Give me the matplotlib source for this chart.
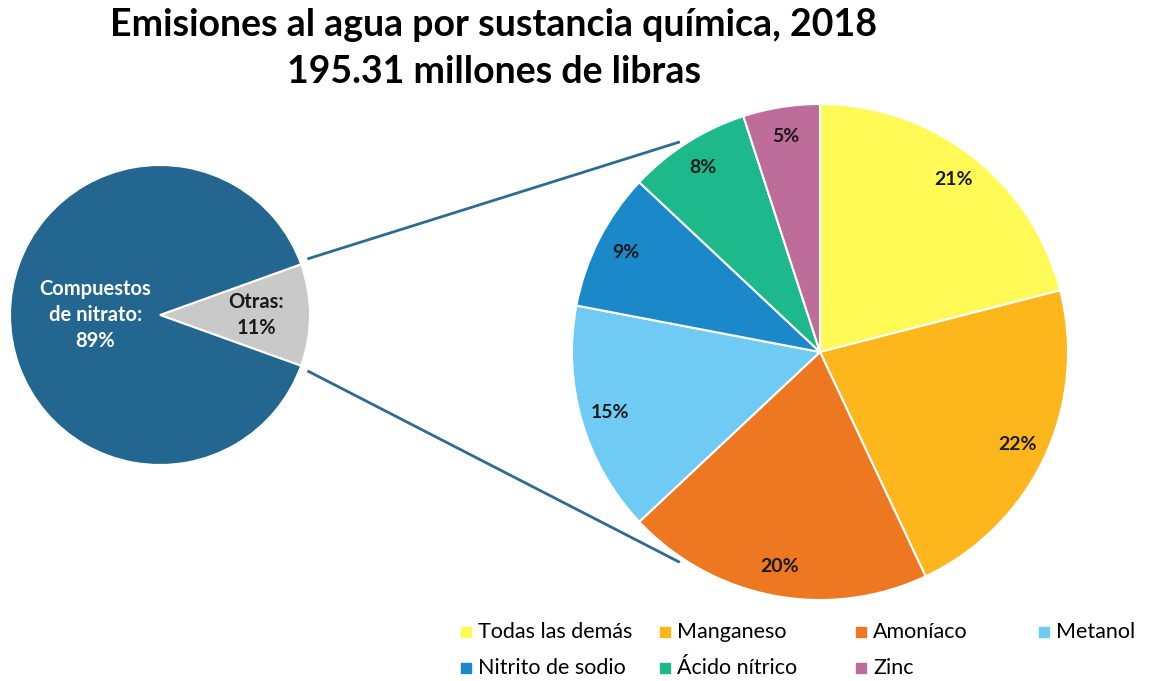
import numpy as np
import matplotlib.pyplot as plt

# left pie
left_labels = ['Otras', 'Compuestos de nitrato']
left_values = [11, 89]
left_colors = ['#C9C9C9', '#236690']

# right pie (breakdown of "Otras")
right_labels = ['Todas las demás', 'Manganeso', 'Amoníaco', 'Metanol',
                'Nitrito de sodio', 'Ácido nítrico', 'Zinc']
right_values = [21, 22, 20, 15, 9, 8, 5]
right_colors = ['#FFFA55', '#FDB71C', '#EE7722', '#6FCBF4',
                '#1B88C9', '#1DB98B', '#BE6C9A']

W, H = 1154, 681
plt.rcParams['font.family'] = ['Lato', 'DejaVu Sans']

fig = plt.figure(figsize=(W / 100, H / 100), dpi=100)
ax = fig.add_axes([0, 0, 1, 1])
ax.set_xlim(0, W)
ax.set_ylim(0, H)
ax.set_aspect('equal')
ax.axis('off')

# pixel-space geometry (y measured from bottom)
lc, lr = (160, H - 315), 150
rc, rr = (820, H - 352), 248

half = left_values[0] / 100 * 360 / 2
lw, _ = ax.pie(left_values, colors=left_colors, center=lc, radius=lr,
               startangle=-half, counterclock=True,
               wedgeprops=dict(edgecolor='white', linewidth=1.5))
ax.set_xlim(0, W)
ax.set_ylim(0, H)

left_txt = ['Otras:\n11%', 'Compuestos\nde nitrato:\n89%']
left_frac = [0.64, 0.43]
left_tc = ['#1a1a1a', 'white']
for w, t, f, c in zip(lw, left_txt, left_frac, left_tc):
    a = np.deg2rad((w.theta1 + w.theta2) / 2)
    ax.text(lc[0] + lr * f * np.cos(a), lc[1] + lr * f * np.sin(a), t,
            ha='center', va='center', fontsize=14.5, fontweight='bold',
            color=c, linespacing=1.4)

rw, _, autot = ax.pie(right_values, colors=right_colors, center=rc, radius=rr,
                      startangle=90, counterclock=False,
                      autopct='%1.0f%%', pctdistance=0.88,
                      wedgeprops=dict(edgecolor='white', linewidth=1.5),
                      textprops=dict(fontsize=14, fontweight='bold', color='#1a1a1a'))
ax.set_xlim(0, W)
ax.set_ylim(0, H)

# connector lines from the "Otras" slice to the breakdown pie
for sgn in (1, -1):
    a0 = np.deg2rad(sgn * (half + 1))
    a1 = np.deg2rad(sgn * 124)
    x0, y0 = lc[0] + lr * 1.06 * np.cos(a0), lc[1] + lr * 1.06 * np.sin(a0)
    x1, y1 = rc[0] + rr * 1.02 * np.cos(a1), rc[1] + rr * 1.02 * np.sin(a1)
    ax.plot([x0, x1], [y0, y1], color='#2F6B8F', lw=2)

# title
ax.text(494, H - 25, 'Emisiones al agua por sustancia química, 2018',
        ha='center', va='center', fontsize=27, fontweight='bold')
ax.text(494, H - 72, '195.31 millones de libras',
        ha='center', va='center', fontsize=27, fontweight='bold')

# legend
col_x = [466, 665, 861, 1044]
row_y = [H - 632, H - 668]
for i, (lab, col) in enumerate(zip(right_labels, right_colors)):
    x, y = col_x[i % 4], row_y[i // 4]
    ax.scatter([x], [y], marker='s', s=55, color=col)
    ax.text(x + 12, y, lab, ha='left', va='center', fontsize=15.5)

fig.savefig('out.png', dpi=100)
